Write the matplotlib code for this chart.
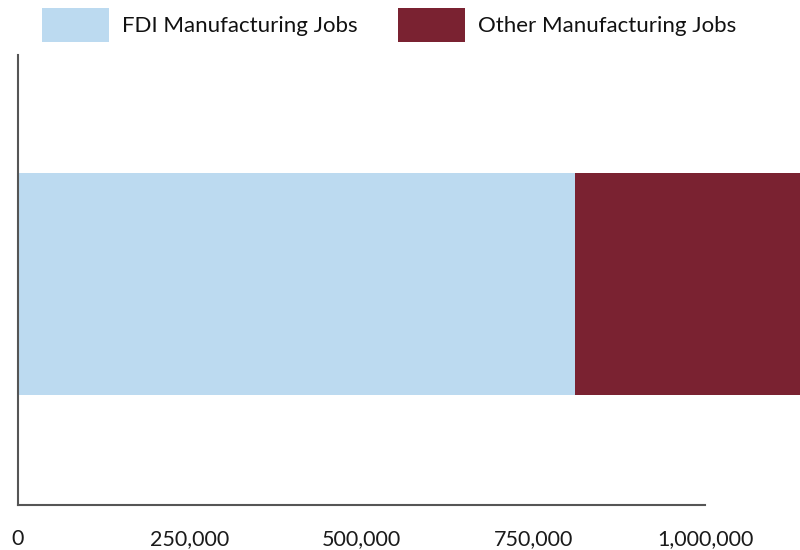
import matplotlib
matplotlib.use("Agg")
import matplotlib.pyplot as plt
from matplotlib.patches import Patch
from matplotlib.ticker import FuncFormatter

plt.rcParams['font.family'] = ['Lato', 'DejaVu Sans']

categories = ["Manufacturing Jobs"]
series_names = ["FDI Manufacturing Jobs", "Other Manufacturing Jobs"]
fdi_jobs = [810000]
other_jobs = [340000]
colors = ["#bcdaf0", "#7a2231"]
x_ticks = [0, 250000, 500000, 750000, 1000000]

fig = plt.figure(figsize=(8, 5.5), dpi=100)
ax = fig.add_axes([0.0225, 0.0818, 0.8588, 0.8182])

ypos = list(range(len(categories)))
ax.barh(ypos, fdi_jobs, height=0.494, color=colors[0], clip_on=False)
ax.barh(ypos, other_jobs, left=fdi_jobs, height=0.494, color=colors[1], clip_on=False)

ax.set_xlim(0, 1000000)
ax.set_ylim(-0.491, 0.509)
ax.set_xticks(x_ticks)
ax.xaxis.set_major_formatter(FuncFormatter(lambda v, p: f"{int(v):,}"))
ax.tick_params(axis='x', length=0, pad=17, labelsize=15.5, labelcolor="#1a1a1a")
ax.set_yticks([])
for s in ["top", "right"]:
    ax.spines[s].set_visible(False)
for s in ["left", "bottom"]:
    ax.spines[s].set_color("#555555")
    ax.spines[s].set_linewidth(1.5)

handles = [Patch(facecolor=c, edgecolor='none') for c in colors]
fig.legend(handles, series_names, ncol=2, loc="upper left",
           bbox_to_anchor=(0.044, 0.998), frameon=False, fontsize=16,
           handlelength=3.0, handleheight=2.0, handletextpad=0.6,
           columnspacing=1.82, borderaxespad=0.0, borderpad=0.3,
           labelcolor="#111111")

fig.savefig("out.png", dpi=100)
